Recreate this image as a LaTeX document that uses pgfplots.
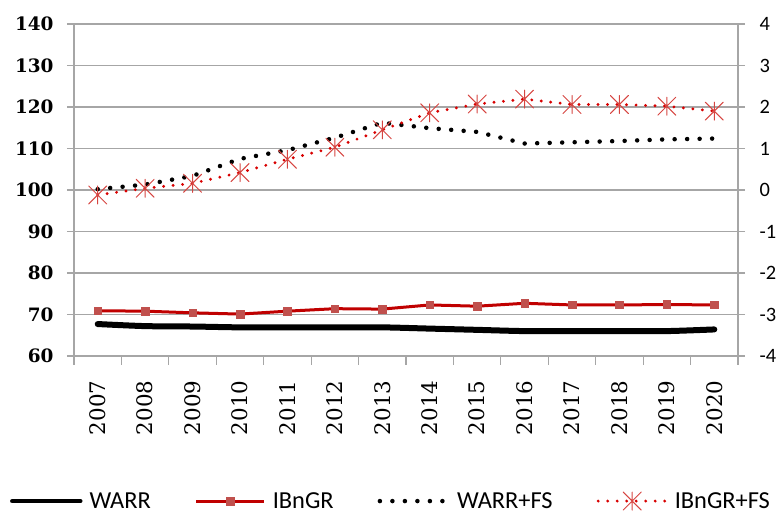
\documentclass[border=0pt]{standalone}
\usepackage{pgfplots}
\pgfplotsset{compat=1.18}
\usetikzlibrary{calc}
\usepackage{fontspec}
\setmainfont{DejaVu Serif}
\newfontfamily\calfont{Carlito}
\definecolor{GridGray}{HTML}{A6A6A6}
\definecolor{DarkRed}{HTML}{C00000}
\definecolor{SqRed}{HTML}{C0504D}
\definecolor{DotRed}{HTML}{D80000}
\definecolor{StarRed}{HTML}{D64541}

% X with a vertical bar, as Excel's star marker
\pgfdeclareplotmark{xstar}{%
  \pgfpathmoveto{\pgfqpoint{-\pgfplotmarksize}{-\pgfplotmarksize}}%
  \pgfpathlineto{\pgfqpoint{\pgfplotmarksize}{\pgfplotmarksize}}%
  \pgfpathmoveto{\pgfqpoint{-\pgfplotmarksize}{\pgfplotmarksize}}%
  \pgfpathlineto{\pgfqpoint{\pgfplotmarksize}{-\pgfplotmarksize}}%
  \pgfpathmoveto{\pgfqpoint{0pt}{-\pgfplotmarksize}}%
  \pgfpathlineto{\pgfqpoint{0pt}{\pgfplotmarksize}}%
  \pgfusepathqstroke}

\begin{document}
\begin{tikzpicture}
\begin{axis}[
    name=ax,
    scale only axis,
    width=664bp, height=332bp,
    xmin=-0.5, xmax=13.5,
    ymin=60, ymax=140,
    axis x line*=bottom,
    axis y line*=left,
    axis line style={draw=GridGray, line width=1.2bp},
    xtick={0,...,13},
    xticklabels={2007,2008,2009,2010,2011,2012,2013,2014,2015,2016,2017,2018,2019,2020},
    major x tick style={draw=none},
    minor xtick={-0.5,0.5,...,13.5},
    minor tick length=9bp,
    minor x tick style={draw=GridGray, line width=1.2bp},
    xticklabel style={rotate=90, anchor=east, font=\fontsize{21.5}{24}\selectfont},
    xticklabel shift=14bp,
    ytick={60,70,...,140},
    yticklabels={60,70,80,90,100,110,120,130,140},
    yticklabel style={font=\fontsize{18.5}{20}\bfseries\selectfont},
    yticklabel shift=10bp,
    major tick length=7bp,
    tick align=outside,
    y tick style={draw=GridGray, line width=1.2bp},
    ymajorgrids=true,
    major grid style={draw=GridGray, line width=1.2bp},
    clip=false,
    legend columns=4,
    legend style={at={(0.4774,-0.437)}, anchor=center, draw=none, fill=none,
        font=\calfont\fontsize{24.5}{26}\selectfont,
        /tikz/every odd column/.append style={column sep=5bp},
        /tikz/every even column/.append style={column sep=42bp},
        inner sep=0pt},
    legend cell align=left,
    legend image code/.code={\draw[mark repeat=2,mark phase=2,#1]
        plot coordinates {(0bp,0bp) (34bp,0bp) (68bp,0bp)};},
]
\addplot[black, line width=6bp, line cap=round, line join=round, smooth,
    forget plot] coordinates {
    (0,67.7) (1,67.2) (2,67.1) (3,66.9) (4,66.9) (5,66.9) (6,66.9)
    (7,66.6) (8,66.3) (9,66.0) (10,66.0) (11,66.0) (12,66.0) (13,66.4)
};
% legend entry for WARR drawn with a thinner line, as in the reference
\addlegendimage{black, line width=4.5bp, line cap=round}
\addlegendentry{WARR}
\addplot[DarkRed, line width=3bp, mark=square*, mark size=3.8bp,
    mark options={fill=SqRed, draw=SqRed, line width=0.5bp}] coordinates {
    (0,70.9) (1,70.8) (2,70.4) (3,70.1) (4,70.8) (5,71.4) (6,71.3)
    (7,72.3) (8,72.0) (9,72.7) (10,72.3) (11,72.3) (12,72.4) (13,72.3)
};
\addlegendentry{IBnGR}
\addplot[black, line width=4.5bp, line cap=round, dash pattern=on 0bp off 12.5bp] coordinates {
    (0,100.2) (1,101.3) (2,103.4) (3,107.5) (4,109.6) (5,112.6) (6,116.2)
    (7,114.9) (8,114.0) (9,111.2) (10,111.5) (11,111.8) (12,112.2) (13,112.4)
};
\addlegendentry{WARR+FS}
\addplot[DotRed, line width=3.2bp, line cap=round, dash pattern=on 0bp off 9.5bp,
    mark=xstar, mark size=9bp,
    mark options={draw=StarRed, line width=1bp, solid}] coordinates {
    (0,98.8) (1,100.4) (2,101.6) (3,104.2) (4,107.4) (5,110.3) (6,114.5)
    (7,118.6) (8,120.7) (9,121.9) (10,120.6) (11,120.6) (12,120.2) (13,119.0)
};
\addlegendentry{IBnGR+FS}
\end{axis}
\begin{axis}[
    scale only axis,
    width=664bp, height=332bp,
    xmin=-0.5, xmax=13.5,
    ymin=-4, ymax=4,
    axis x line=none,
    axis y line*=right,
    axis line style={draw=GridGray, line width=1.2bp},
    ytick={-4,...,4},
    yticklabels={-4,-3,-2,-1,0,1,2,3,4},
    yticklabel style={font=\calfont\fontsize{20.5}{22}\selectfont},
    yticklabel shift=11bp,
    major tick length=7bp,
    tick align=outside,
    y tick style={draw=GridGray, line width=1.2bp},
]
\end{axis}
\pgfresetboundingbox
\useasboundingbox ($(ax.south west)+(-74bp,-157bp)$) rectangle ($(ax.north east)+(45bp,24bp)$);
\end{tikzpicture}
\end{document}
